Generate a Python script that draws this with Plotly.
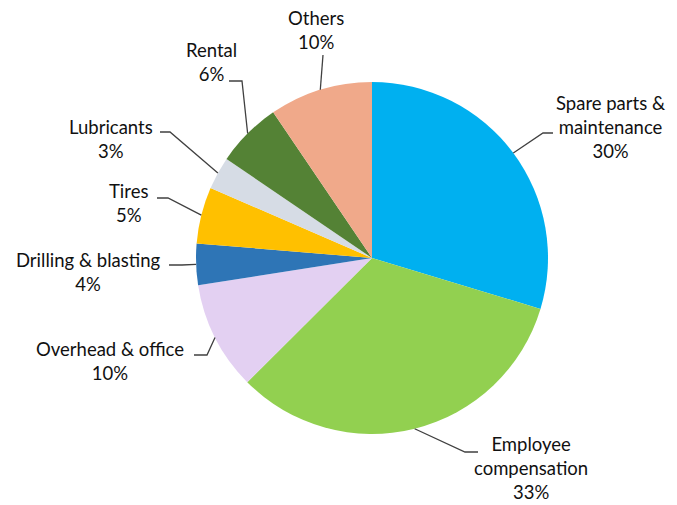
import math
import plotly.graph_objects as go

# data (share of total cost, %)
categories = [
    "Spare parts &<br>maintenance",
    "Employee<br>compensation",
    "Overhead & office",
    "Drilling & blasting",
    "Tires",
    "Lubricants",
    "Rental",
    "Others",
]
shares = [29.7, 32.9, 10.0, 3.8, 5.2, 3.0, 6.0, 9.5]
colors = ["#00B0F0", "#92D050", "#E3D0F2", "#2E75B6",
          "#FFC000", "#D6DCE5", "#548235", "#F0A98A"]

W, H = 677, 505
CX, CY, R = 372, 258, 176

# label layout in pixels: elbow point, end of horizontal tick, text centre
label_layout = [
    ((543, 133), 553, (611, 127)),
    ((465, 452), 478, (531, 468)),
    ((207, 355), 194, (110, 361)),
    ((182, 265), 169, (88, 272)),
    ((168, 198), 157, (128, 203)),
    ((170, 132), 160, (111, 139)),
    ((242, 81), 229, (211, 62)),
    ((323, 55), 323, (316, 30)),
]


def px(x, y):
    return x / W, 1 - y / H


fig = go.Figure(go.Pie(
    labels=[c.replace("<br>", " ") for c in categories],
    values=shares,
    marker=dict(colors=colors, line=dict(width=0)),
    sort=False,
    direction="clockwise",
    rotation=0,
    textinfo="none",
    hoverinfo="label+percent",
    domain=dict(x=[(CX - R) / W, (CX + R) / W],
                y=[1 - (CY + R) / H, 1 - (CY - R) / H]),
    showlegend=False,
))

total = sum(shares)
cum = 0
for name, val, (elbow, hx, txt) in zip(categories, shares, label_layout):
    mid = (cum + val / 2) / total * 2 * math.pi
    cum += val
    sx = CX + R * math.sin(mid)
    sy = CY - R * math.cos(mid)
    x0, y0 = px(sx, sy)
    x1, y1 = px(*elbow)
    x2, y2 = px(hx, elbow[1])
    fig.add_shape(type="path", xref="paper", yref="paper",
                  path=f"M {x0} {y0} L {x1} {y1} L {x2} {y2}",
                  line=dict(color="#404040", width=1.3))
    tx, ty = px(*txt)
    fig.add_annotation(x=tx, y=ty, xref="paper", yref="paper",
                       text=f"{name}<br>{val:.0f}%", showarrow=False,
                       align="center", xanchor="center", yanchor="middle",
                       font=dict(size=18.5, color="#111111"))

fig.update_layout(
    width=W, height=H,
    margin=dict(l=0, r=0, t=0, b=0),
    paper_bgcolor="white",
    plot_bgcolor="white",
    font=dict(family="Lato, Noto Sans, sans-serif", size=18, color="#111111"),
)

# drop the default page margin so the figure sits flush in the window
fig.write_html("out.html", config={"displayModeBar": False},
               post_script="document.body.style.margin = '0';")
